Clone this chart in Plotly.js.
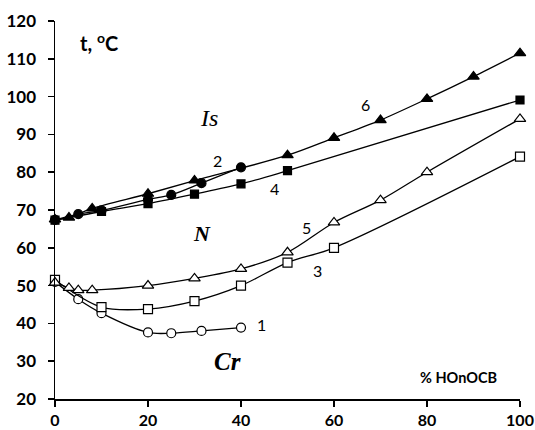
<!DOCTYPE html>
<html>
<head>
<meta charset="utf-8">
<script src="https://cdn.plot.ly/plotly-3.0.1.min.js"></script>
<style>html,body{margin:0;padding:0;background:#fff;}#chart{width:535px;height:430px;}</style>
</head>
<body>
<div id="chart"></div>
<script>
// Series data (x = % HOnOCB, y = t, °C)
var s1x = [0, 5, 10, 20, 25, 31.5, 40];
var s1y = [51, 46.4, 42.7, 37.6, 37.4, 38, 38.9];
var s2x = [0, 5, 10, 20, 25, 31.5, 40];
var s2y = [67.4, 68.9, 69.9, 72.8, 74, 77.1, 81.3];
var s3x = [0, 10, 20, 30, 40, 50, 60, 100];
var s3y = [51.5, 44.3, 43.8, 45.9, 50, 56.1, 60, 84.1];
var s4x = [0, 10, 20, 30, 40, 50, 100];
var s4y = [67.3, 69.6, 71.7, 74.2, 76.9, 80.4, 99.1];
var s5x = [0, 3, 5, 8, 20, 30, 40, 50, 60, 70, 80, 100];
var s5y = [50.8, 49.4, 48.8, 48.8, 50, 51.9, 54.4, 58.8, 66.7, 72.6, 80, 94.1];
var s6x = [0, 3, 8, 20, 30, 50, 60, 70, 80, 90, 100];
var s6y = [67.5, 68, 70.4, 74.3, 77.8, 84.5, 89.1, 93.8, 99.4, 105.3, 111.5];
var xTicks = [0, 20, 40, 60, 80, 100];
var yTicks = [20, 30, 40, 50, 60, 70, 80, 90, 100, 110, 120];

function tr(x, y, sym, size, fill) {
  return {
    x: x, y: y, type: 'scatter', mode: 'lines+markers',
    line: {color: '#000', width: 1.3, shape: 'spline', smoothing: 0.9},
    marker: {symbol: sym, size: size, color: fill, line: {color: '#000', width: 1.2}},
    cliponaxis: false, showlegend: false, hoverinfo: 'x+y'
  };
}

var data = [
  tr(s1x, s1y, 'circle', 9, '#fff'),
  tr(s3x, s3y, 'square', 9, '#fff'),
  tr(s5x, s5y, 'triangle-up', 10, '#fff'),
  tr(s4x, s4y, 'square', 8, '#000'),
  tr(s2x, s2y, 'circle', 9, '#000'),
  tr(s6x, s6y, 'triangle-up', 10, '#000')
];

var sans = 'Lato, "Liberation Sans", Arial, sans-serif';
var serif = '"Liberation Serif", "Times New Roman", serif';
function lab(t, x, y, font) {
  return {text: t, x: x, y: y, xref: 'x', yref: 'y', showarrow: false, font: font};
}
var numFont = {family: sans, size: 16, color: '#000'};

var layout = {
  width: 535, height: 430,
  margin: {l: 55, r: 15, t: 21, b: 31},
  paper_bgcolor: '#fff', plot_bgcolor: '#fff',
  xaxis: {
    range: [0, 100], tickvals: xTicks, ticktext: xTicks.map(function(v){return '<b>' + v + '</b>';}),
    showgrid: false, zeroline: false, showline: true, linecolor: '#000', linewidth: 1.5,
    ticks: 'outside', ticklen: 6, tickcolor: '#000', tickwidth: 1.5, ticklabelstandoff: 0,
    tickfont: {family: sans, size: 16, color: '#000'}, fixedrange: true
  },
  yaxis: {
    range: [20, 120], tickvals: yTicks, ticktext: yTicks.map(function(v){return '<b>' + v + '</b>';}),
    showgrid: false, zeroline: false, showline: true, linecolor: '#000', linewidth: 1.5,
    ticks: 'outside', ticklen: 6, tickcolor: '#000', tickwidth: 1.5, ticklabelstandoff: 8,
    tickfont: {family: sans, size: 17, color: '#000'}, fixedrange: true
  },
  annotations: [
    lab('<b>t, <sup>o</sup>C</b>', 9.5, 114.5, {family: sans, size: 20, color: '#000'}),
    lab('<b>% HOnOCB</b>', 86.7, 25.6, {family: sans, size: 14.5, color: '#000'}),
    lab('<i>Is</i>', 33.1, 94.3, {family: serif, size: 24, color: '#000'}),
    lab('<b><i>N</i></b>', 31.6, 63.9, {family: serif, size: 22, color: '#000'}),
    lab('<b><i>Cr</i></b>', 37.2, 29.8, {family: serif, size: 25, color: '#000'}),
    lab('1', 44.5, 39.6, numFont),
    lab('2', 34.9, 83, numFont),
    lab('3', 56.5, 53.9, numFont),
    lab('4', 47.1, 75.6, numFont),
    lab('5', 54, 65.5, numFont),
    lab('6', 66.7, 98, numFont)
  ]
};

Plotly.newPlot('chart', data, layout, {displayModeBar: false, staticPlot: true});
</script>
</body>
</html>
